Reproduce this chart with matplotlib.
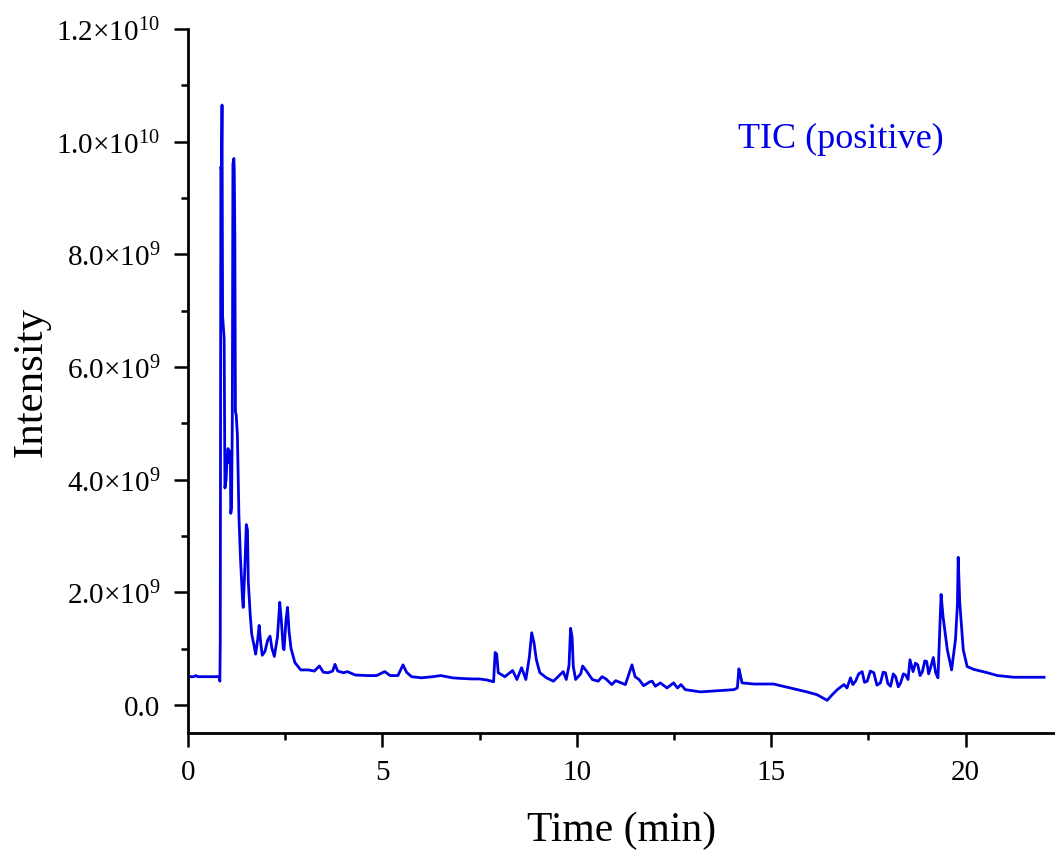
import matplotlib
matplotlib.use("Agg")
import matplotlib.pyplot as plt
from matplotlib.ticker import MultipleLocator, FuncFormatter

# Retention time (min) and TIC intensity (x 1e9)
time_min = [
    0.00, 0.15, 0.20, 0.25, 0.80, 0.82, 0.83, 0.845, 0.86, 0.875,
    0.89, 0.93, 0.95, 0.98, 1.00, 1.03, 1.06, 1.09, 1.10, 1.12,
    1.14, 1.155, 1.18, 1.19, 1.205, 1.22, 1.24, 1.27, 1.31, 1.35,
    1.40, 1.42, 1.46, 1.50, 1.53, 1.55, 1.60, 1.64, 1.70, 1.74,
    1.80, 1.83, 1.87, 1.91, 1.98, 2.05, 2.11, 2.16, 2.22, 2.30,
    2.36, 2.40, 2.45, 2.47, 2.52, 2.56, 2.60, 2.65, 2.75, 2.90,
    3.10, 3.25, 3.38, 3.48, 3.60, 3.72, 3.78, 3.85, 4.00, 4.10,
    4.30, 4.60, 4.85, 5.06, 5.20, 5.40, 5.53, 5.62, 5.75, 6.00,
    6.30, 6.50, 6.80, 7.00, 7.30, 7.50, 7.70, 7.86, 7.90, 7.94,
    7.98, 8.15, 8.35, 8.46, 8.58, 8.69, 8.78, 8.84, 8.90, 8.96,
    9.05, 9.22, 9.40, 9.65, 9.73, 9.80, 9.84, 9.88, 9.91, 9.97,
    10.10, 10.15, 10.25, 10.40, 10.55, 10.65, 10.75, 10.90, 11.00, 11.25,
    11.42, 11.50, 11.60, 11.72, 11.88, 11.94, 12.02, 12.15, 12.32, 12.49,
    12.59, 12.68, 12.79, 13.18, 13.61, 14.04, 14.13, 14.17, 14.21, 14.25,
    14.55, 15.06, 15.49, 15.92, 16.18, 16.44, 16.57, 16.70, 16.87, 16.95,
    17.04, 17.10, 17.17, 17.25, 17.34, 17.40, 17.47, 17.55, 17.64, 17.72,
    17.81, 17.88, 17.94, 18.00, 18.07, 18.14, 18.20, 18.27, 18.33, 18.40,
    18.46, 18.52, 18.57, 18.65, 18.71, 18.77, 18.83, 18.89, 18.95, 19.00,
    19.05, 19.10, 19.17, 19.23, 19.29, 19.33, 19.37, 19.42, 19.53, 19.64,
    19.74, 19.79, 19.81, 19.85, 19.94, 20.04, 20.21, 20.56, 20.82, 21.24,
    22.02,
]
intensity_e9 = [
    0.50, 0.50, 0.52, 0.50, 0.50, 0.42, 1.14, 9.55, 9.50, 10.65,
    6.90, 6.50, 3.85, 4.00, 4.30, 4.55, 4.30, 4.50, 3.40, 3.50,
    5.10, 9.60, 9.70, 9.50, 8.30, 5.20, 5.15, 4.80, 3.35, 2.60,
    1.90, 1.73, 2.40, 3.20, 3.10, 2.20, 1.60, 1.25, 1.05, 0.90,
    1.20, 1.41, 1.10, 0.88, 0.95, 1.15, 1.22, 1.00, 0.86, 1.20,
    1.82, 1.50, 1.00, 0.98, 1.50, 1.73, 1.30, 1.00, 0.75, 0.62,
    0.62, 0.60, 0.69, 0.58, 0.57, 0.60, 0.72, 0.60, 0.57, 0.59,
    0.53, 0.52, 0.52, 0.59, 0.52, 0.52, 0.71, 0.58, 0.50, 0.48,
    0.50, 0.52, 0.48, 0.47, 0.46, 0.46, 0.44, 0.41, 0.93, 0.90,
    0.57, 0.50, 0.61, 0.45, 0.66, 0.45, 0.85, 1.28, 1.10, 0.80,
    0.57, 0.48, 0.42, 0.59, 0.45, 0.70, 1.36, 1.20, 0.68, 0.45,
    0.55, 0.69, 0.60, 0.45, 0.42, 0.50, 0.46, 0.36, 0.43, 0.36,
    0.71, 0.50, 0.45, 0.34, 0.41, 0.42, 0.33, 0.39, 0.30, 0.39,
    0.30, 0.36, 0.27, 0.23, 0.25, 0.27, 0.30, 0.64, 0.52, 0.39,
    0.37, 0.37, 0.30, 0.23, 0.18, 0.08, 0.18, 0.27, 0.36, 0.30,
    0.48, 0.36, 0.42, 0.55, 0.59, 0.40, 0.42, 0.60, 0.57, 0.35,
    0.39, 0.58, 0.57, 0.38, 0.33, 0.55, 0.50, 0.32, 0.39, 0.55,
    0.53, 0.45, 0.80, 0.59, 0.74, 0.71, 0.52, 0.59, 0.78, 0.77,
    0.55, 0.66, 0.84, 0.57, 0.48, 1.22, 1.96, 1.57, 0.98, 0.62,
    1.16, 1.78, 2.62, 1.82, 0.98, 0.68, 0.63, 0.57, 0.52, 0.49,
    0.49,
]

x_ticks = [0, 5, 10, 15, 20]
y_tick_labels = {
    0: "0.0",
    2: "2.0×10$^{9}$",
    4: "4.0×10$^{9}$",
    6: "6.0×10$^{9}$",
    8: "8.0×10$^{9}$",
    10: "1.0×10$^{10}$",
    12: "1.2×10$^{10}$",
}

plt.rcParams["font.family"] = ["Liberation Serif", "DejaVu Serif"]
plt.rcParams["mathtext.fontset"] = "custom"
plt.rcParams["mathtext.rm"] = "Liberation Serif"
plt.rcParams["mathtext.it"] = "Liberation Serif:italic"

fig = plt.figure(figsize=(10.55, 8.54), dpi=100)
ax = fig.add_axes([0.1782, 0.1405, 0.8218, 0.8244])

intensity = [v * 1e9 for v in intensity_e9]
ax.plot(time_min, intensity, color="#0000e6", linewidth=2.0)

ax.set_xlim(0, 22.3)
ax.set_ylim(-0.5e9, 1.2e10)

# only left and bottom axes, outward ticks
ax.spines["top"].set_visible(False)
ax.spines["right"].set_visible(False)
for s in ["left", "bottom"]:
    ax.spines[s].set_linewidth(2.0)

ax.set_xticks(x_ticks)
ax.xaxis.set_minor_locator(MultipleLocator(2.5))
ax.yaxis.set_major_locator(MultipleLocator(2e9))
ax.yaxis.set_minor_locator(MultipleLocator(1e9))
ax.yaxis.set_major_formatter(FuncFormatter(lambda v, p: y_tick_labels.get(int(round(v / 1e9)), "")))

ax.tick_params(which="major", direction="out", length=10, width=1.8, labelsize=21)
ax.tick_params(axis="y", which="major", pad=10)
ax.tick_params(axis="x", which="major", pad=9)
ax.tick_params(which="minor", direction="out", length=5, width=1.8)

ax.set_xlabel("Time (min)", fontsize=30, labelpad=18)
ax.set_ylabel("Intensity", fontsize=31, labelpad=4)

ax.text(14.15, 9.9e9, "TIC (positive)", color="#0000e6", fontsize=26)

fig.savefig("out.png", dpi=100)
